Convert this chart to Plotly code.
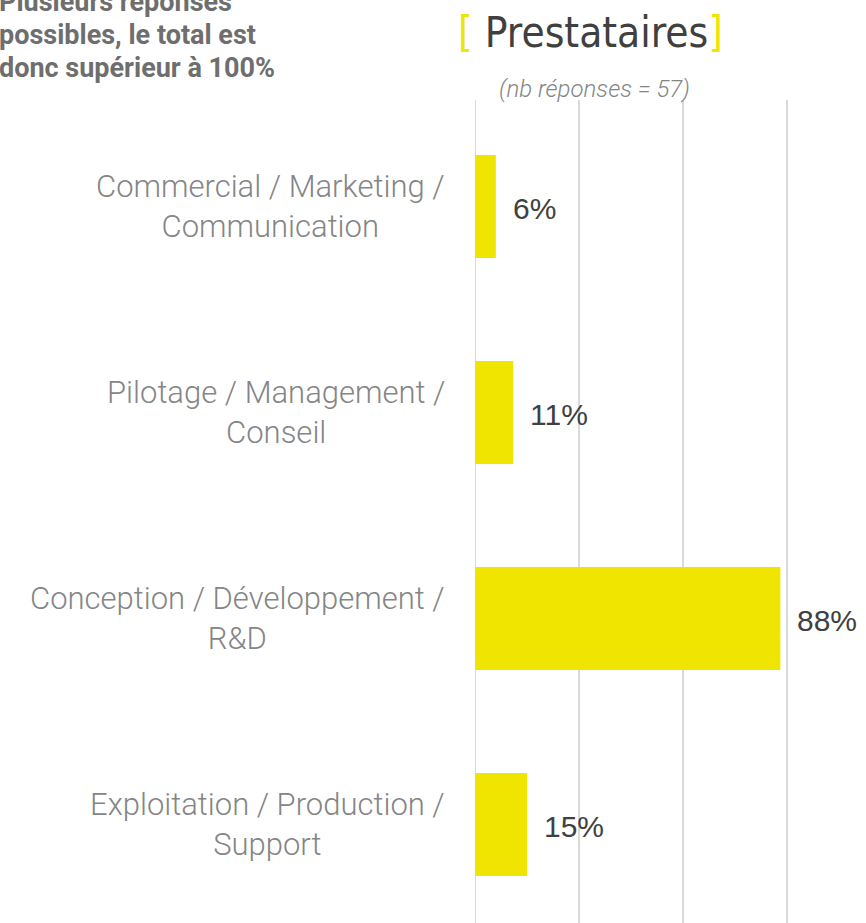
import plotly.graph_objects as go

# Survey data: share of respondents per activity (several answers allowed)
categories = [
    "Commercial / Marketing /<br>Communication",
    "Pilotage / Management /<br>Conseil",
    "Conception / Développement /<br>R&D",
    "Exploitation / Production /<br>Support",
]
shares = [0.06, 0.11, 0.88, 0.15]
share_labels = ["6%", "11%", "88%", "15%"]

W, H = 866, 923
M_L, M_R, M_T, M_B = 475, 0, 100, 0
PLOT_W = W - M_L - M_R
PLOT_H = H - M_T - M_B


def px_x(x):
    return (x - M_L) / PLOT_W


def px_y(y):
    return (H - M_B - y) / PLOT_H


YELLOW = "#F0E500"
GRID = "#D9D9D9"
cat_ids = list(range(len(categories)))

fig = go.Figure()
fig.add_trace(go.Bar(
    x=shares,
    y=cat_ids,
    orientation="h",
    marker=dict(color=YELLOW, line=dict(width=0)),
    width=0.5,
    hoverinfo="skip",
))

# Zero line drawn like the other grid lines
fig.add_shape(type="line", xref="x", yref="paper", x0=0, x1=0, y0=0, y1=1,
              line=dict(color=GRID, width=2), layer="below")

annotations = []
# Value labels right of each bar
for i, (v, lab) in enumerate(zip(shares, share_labels)):
    annotations.append(dict(
        x=v, y=i, xref="x", yref="y", text=lab, showarrow=False,
        xanchor="left", yanchor="middle", xshift=15, yshift=-2,
        font=dict(family="Liberation Sans, Arial", size=30, color="#404040"),
    ))
# Category labels, centred lines, right edge near the axis
for i, c in enumerate(categories):
    annotations.append(dict(
        x=px_x(447), y=i, xref="paper", yref="y", text=c, showarrow=False,
        xanchor="right", yanchor="middle", align="center",
        font=dict(family="Roboto", weight=300, size=31, color="#858585"),
    ))

# Title with yellow brackets
annotations.append(dict(
    x=px_x(590), y=px_y(33), xref="paper", yref="paper",
    text=f'<span style="color:{YELLOW}">[</span> Prestataires<span style="color:{YELLOW}">]</span>',
    showarrow=False, xanchor="center", yanchor="middle",
    font=dict(family="DejaVu Sans Condensed", size=42, color="#404040"),
))
annotations.append(dict(
    x=px_x(594), y=px_y(89), xref="paper", yref="paper",
    text="<i>(nb réponses = 57)</i>", showarrow=False,
    xanchor="center", yanchor="middle",
    font=dict(family="Roboto", weight=300, size=24, color="#858585"),
))

# Note in the top-left corner
note_lines = ["Plusieurs réponses", "possibles, le total est", "donc supérieur à 100%"]
for k, line in enumerate(note_lines):
    annotations.append(dict(
        x=px_x(-3), y=px_y(2 + 33 * k), xref="paper", yref="paper",
        text=line, showarrow=False, xanchor="left", yanchor="middle",
        font=dict(family="Roboto", weight=700, size=27, color="#6E6E6E"),
    ))

fig.update_layout(
    width=W, height=H,
    margin=dict(l=M_L, r=M_R, t=M_T, b=M_B, pad=0),
    paper_bgcolor="white", plot_bgcolor="white",
    showlegend=False,
    bargap=0.5,
    xaxis=dict(
        range=[0, PLOT_W / 347],
        tick0=0, dtick=0.3,
        showgrid=True, gridcolor=GRID, gridwidth=2,
        zeroline=False, showticklabels=False, ticks="",
        showline=False, fixedrange=True,
    ),
    yaxis=dict(
        range=[3.478, -0.517],
        showgrid=False, zeroline=False, showticklabels=False,
        ticks="", showline=False, fixedrange=True,
    ),
    annotations=annotations,
)

fig.write_html("out.html")
